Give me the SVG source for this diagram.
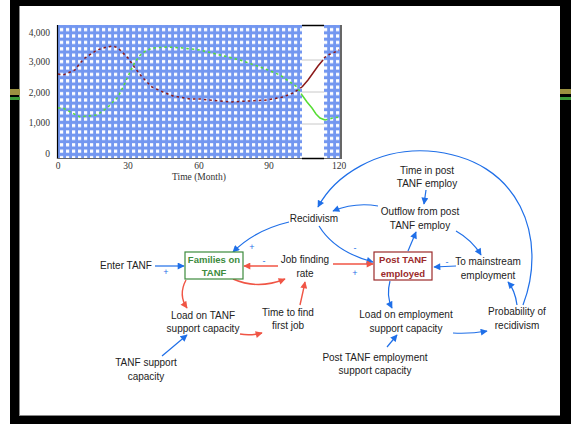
<svg xmlns="http://www.w3.org/2000/svg" width="571" height="424" viewBox="0 0 571 424">
<defs>
<pattern id="dots" patternUnits="userSpaceOnUse" x="58" y="26" width="6" height="6.4">
<rect width="6" height="6.4" fill="#7397f0"/>
<rect x="2" y="2" width="3.2" height="3.2" fill="#ffffff"/>
</pattern>
<marker id="ab" viewBox="0 0 10 10" refX="9" refY="5" markerWidth="8" markerHeight="7" markerUnits="userSpaceOnUse" orient="auto">
<path d="M0,0 L10,5 L0,10 Z" fill="#1f6fe8"/>
</marker>
<marker id="ar" viewBox="0 0 10 10" refX="9" refY="5" markerWidth="8" markerHeight="7" markerUnits="userSpaceOnUse" orient="auto">
<path d="M0,0 L10,5 L0,10 Z" fill="#f05545"/>
</marker>
</defs>
<style>
.lbl{font-family:"Liberation Sans",Arial,sans-serif;font-size:10px;fill:#222;text-anchor:middle}
.ax{font-family:"Liberation Serif","Times New Roman",serif;font-size:9.5px;fill:#333}
.sg{font-family:"Liberation Sans",Arial,sans-serif;font-size:9px;fill:#1f6fe8;text-anchor:middle}
.b{fill:none;stroke:#1f6fe8;stroke-width:1.2;marker-end:url(#ab)}
.r{fill:none;stroke:#f05545;stroke-width:1.4;marker-end:url(#ar)}
.cr{fill:none;stroke:#8b1a1a;stroke-width:1.5}
.cg{fill:none;stroke:#55dd33;stroke-width:1.5}
.dash{stroke-dasharray:2.5 3}
</style>
<rect width="571" height="424" fill="#ffffff"/>
<!-- frame -->
<g id="frame">
<rect x="10" y="0" width="561" height="6" fill="#000"/>
<rect x="10" y="0" width="9" height="424" fill="#000"/>
<rect x="560" y="0" width="11" height="424" fill="#000"/>
<rect x="10" y="415" width="561" height="9" fill="#000"/>
<line x1="19.5" y1="6" x2="19.5" y2="415" stroke="#888" stroke-width="1"/>
<line x1="19" y1="415.5" x2="560" y2="415.5" stroke="#888" stroke-width="1"/>
<rect x="10" y="89" width="10" height="6" fill="#9a9040"/>
<rect x="10" y="97" width="10" height="3" fill="#3a9a3a"/>
<rect x="560" y="89" width="11" height="5" fill="#9a9040"/>
<rect x="560" y="97" width="11" height="3" fill="#3a9a3a"/>
</g>
<!-- chart -->
<g id="chart">
<rect x="58" y="25" width="244" height="133" fill="url(#dots)"/>
<rect x="324" y="25" width="16" height="133" fill="url(#dots)"/>
<line x1="302" y1="60" x2="324" y2="60" stroke="#c8c8c8"/>
<line x1="302" y1="92" x2="324" y2="92" stroke="#c8c8c8"/>
<line x1="302" y1="124" x2="324" y2="124" stroke="#c8c8c8"/>
<line x1="302" y1="25.5" x2="324" y2="25.5" stroke="#000" stroke-width="1.5"/>
<line x1="57.5" y1="25" x2="57.5" y2="159" stroke="#000" stroke-width="1.2"/>
<line x1="341" y1="25" x2="341" y2="159" stroke="#000" stroke-width="1.2"/>
<line x1="57" y1="158.5" x2="341" y2="158.5" stroke="#666" stroke-width="1.2"/>
<line x1="302" y1="158.5" x2="324" y2="158.5" stroke="#000" stroke-width="1.5"/>
<path class="cr dash" d="M58,74 L63,75 L75,70 L80,63 L85,58 L97,50 L107,47 L113,46 L118,48 L128,58 L135,68 L142,77 L152,87 L163,92 L173,96 L190,99 L200,99 L230,102 L267,100 L283,97 L293,93 L302,87"/>
<path class="cr" d="M302,87 L308,80 L313,73 L318,66 L323,60"/>
<path class="cr dash" d="M324,58 L328,55 L335,52 L339,50"/>
<path class="cg dash" d="M58,108 L63,108 L80,117 L97,115 L107,108 L118,97 L125,83 L130,72 L135,62 L142,53 L152,48 L167,47 L183,48 L200,50 L220,55 L240,60 L263,68 L280,75 L290,82 L297,87 L302,95"/>
<path class="cg" d="M302,95 L307,102 L312,108 L316,114 L320,118 L325,120"/>
<path class="cg dash" d="M325,120 L333,118 L339,117"/>
<text class="ax" x="50" y="36" text-anchor="end">4,000</text>
<text class="ax" x="50" y="65" text-anchor="end">3,000</text>
<text class="ax" x="50" y="96" text-anchor="end">2,000</text>
<text class="ax" x="50" y="126" text-anchor="end">1,000</text>
<text class="ax" x="50" y="157" text-anchor="end">0</text>
<text class="ax" x="58" y="169" text-anchor="middle">0</text>
<text class="ax" x="128" y="169" text-anchor="middle">30</text>
<text class="ax" x="199" y="169" text-anchor="middle">60</text>
<text class="ax" x="269" y="169" text-anchor="middle">90</text>
<text class="ax" x="339" y="169" text-anchor="middle">120</text>
<text class="ax" x="199" y="180" text-anchor="middle">Time (Month)</text>
</g>
<!-- connectors -->
<g id="connectors">
<path class="b" d="M155,266 L184,266"/>
<path class="b" d="M289,222 Q255,230 233,252"/>
<path class="b" d="M319,226 Q335,252 373,262"/>
<path class="b" d="M378,206 Q355,202 333,211"/>
<path class="b" d="M426,190 L424,204"/>
<path class="b" d="M408,251 L416,232"/>
<path class="b" d="M456,231 Q472,240 481,255"/>
<path class="b" d="M456,266 L434,267"/>
<path class="b" d="M390,281 Q386,296 392,308"/>
<path class="b" d="M387,347 L397,335"/>
<path class="b" d="M453,333 Q470,334 487,331"/>
<path class="b" d="M517,305 Q515,290 508,282"/>
<path class="b" d="M523,305 C548,240 522,158 428,151 C378,148 335,175 318,207"/>
<path class="b" d="M162,356 L187,335"/>
<path class="r" d="M278,266 L244,266"/>
<path class="r" d="M233,279 Q258,290 285,279"/>
<path class="r" d="M186,280 Q178,295 187,308"/>
<path class="r" d="M240,334 Q250,336 262,333"/>
<path class="r" d="M300,305 Q303,292 305,282"/>
<path class="r" d="M333,264 L373,264"/>
<text class="sg" x="166" y="275">+</text>
<text class="sg" x="252" y="250">+</text>
<text class="sg" x="264" y="264">-</text>
<text class="sg" x="355" y="251">-</text>
<text class="sg" x="355" y="276">+</text>
<text class="sg" x="447" y="265">-</text>
</g>
<!-- nodes -->
<g id="enter-tanf"><text class="lbl" x="126" y="269">Enter TANF</text></g>
<g id="families-on-tanf">
<rect x="185" y="252" width="58" height="27" fill="#fff" stroke="#3d8b3d" stroke-width="1.2"/>
<text class="lbl" x="214" y="263" style="font-weight:bold;font-size:9.5px;fill:#3d8b3d">Families on</text>
<text class="lbl" x="214" y="276" style="font-weight:bold;font-size:9.5px;fill:#3d8b3d">TANF</text>
</g>
<g id="job-finding-rate"><text class="lbl" x="305" y="263">Job finding</text><text class="lbl" x="305" y="277">rate</text></g>
<g id="post-tanf-employed">
<rect x="374" y="252" width="58" height="28" fill="#fff" stroke="#9b2a2a" stroke-width="1.2"/>
<text class="lbl" x="403" y="263" style="font-weight:bold;font-size:9.5px;fill:#9b2a2a">Post TANF</text>
<text class="lbl" x="403" y="277" style="font-weight:bold;font-size:9.5px;fill:#9b2a2a">employed</text>
</g>
<g id="recidivism"><text class="lbl" x="314" y="222">Recidivism</text></g>
<g id="time-in-post"><text class="lbl" x="427" y="174">Time in post</text><text class="lbl" x="427" y="187">TANF employ</text></g>
<g id="outflow"><text class="lbl" x="420" y="215">Outflow from post</text><text class="lbl" x="420" y="229">TANF employ</text></g>
<g id="to-mainstream"><text class="lbl" x="488" y="265">To mainstream</text><text class="lbl" x="488" y="279">employment</text></g>
<g id="load-tanf"><text class="lbl" x="203" y="319">Load on TANF</text><text class="lbl" x="203" y="332">support capacity</text></g>
<g id="time-to-find"><text class="lbl" x="288" y="316">Time to find</text><text class="lbl" x="288" y="329">first job</text></g>
<g id="tanf-support"><text class="lbl" x="146" y="366">TANF support</text><text class="lbl" x="146" y="380">capacity</text></g>
<g id="load-employment"><text class="lbl" x="406" y="318">Load on employment</text><text class="lbl" x="406" y="332">support capacity</text></g>
<g id="post-tanf-support"><text class="lbl" x="375" y="361">Post TANF employment</text><text class="lbl" x="375" y="374">support capacity</text></g>
<g id="probability"><text class="lbl" x="517" y="315">Probability of</text><text class="lbl" x="517" y="329">recidivism</text></g>
</svg>
